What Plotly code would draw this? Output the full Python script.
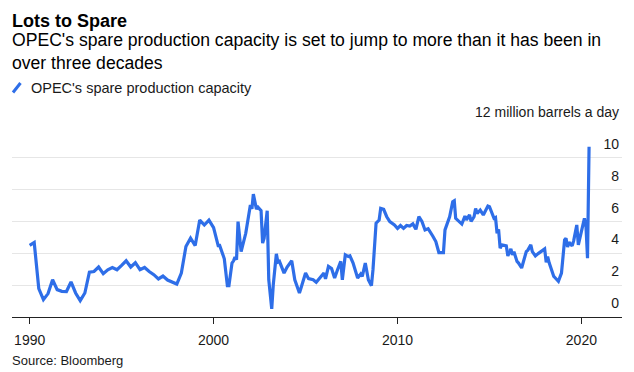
import plotly.graph_objects as go

# ---- data ----
dates = [
    "1990-01", "1990-04", "1990-07", "1990-10", "1991-01", "1991-04", "1991-07", "1991-10",
    "1992-01", "1992-04", "1992-07", "1992-10", "1993-01", "1993-04", "1993-07", "1993-10",
    "1994-01", "1994-04", "1994-07", "1994-10", "1995-01", "1995-04", "1995-07", "1995-10",
    "1996-01", "1996-04", "1996-07", "1996-10", "1997-01", "1997-04", "1997-07", "1997-10",
    "1998-01", "1998-04", "1998-07", "1998-10", "1999-01", "1999-04", "1999-07", "1999-10",
    "2000-01", "2000-04", "2000-05", "2000-08", "2000-10", "2000-11", "2001-01", "2001-02",
    "2001-03", "2001-04", "2001-05", "2001-07", "2001-10", "2002-01", "2002-02", "2002-03",
    "2002-05", "2002-06", "2002-08", "2002-09", "2002-10", "2002-12", "2003-01", "2003-03",
    "2003-04", "2003-06", "2003-07", "2003-08", "2003-11", "2004-01", "2004-04", "2004-06",
    "2004-09", "2004-10", "2005-01", "2005-03", "2005-06", "2005-08", "2005-11", "2006-01",
    "2006-02", "2006-04", "2006-06", "2006-08", "2006-10", "2006-12", "2007-01", "2007-03",
    "2007-05", "2007-06", "2007-08", "2007-10", "2007-11", "2008-01", "2008-02", "2008-04",
    "2008-06", "2008-08", "2008-09", "2008-11", "2009-01", "2009-02", "2009-04", "2009-06",
    "2009-08", "2009-11", "2010-01", "2010-03", "2010-05", "2010-07", "2010-09", "2010-11",
    "2011-01", "2011-03", "2011-05", "2011-07", "2011-09", "2011-12", "2012-02", "2012-04",
    "2012-07", "2012-08", "2012-11", "2013-01", "2013-02", "2013-03", "2013-05", "2013-07",
    "2013-09", "2013-10", "2013-12", "2014-01", "2014-03", "2014-04", "2014-05", "2014-07",
    "2014-09", "2014-12", "2015-01", "2015-03", "2015-04", "2015-05", "2015-06", "2015-07",
    "2015-08", "2015-09", "2015-12", "2016-01", "2016-03", "2016-04", "2016-05", "2016-07",
    "2016-08", "2016-10", "2017-01", "2017-02", "2017-04", "2017-05", "2017-07", "2017-09",
    "2018-01", "2018-02", "2018-03", "2018-04", "2018-06", "2018-07", "2018-08", "2018-10",
    "2018-12", "2019-02", "2019-03", "2019-04", "2019-05", "2019-07", "2019-08", "2019-10",
    "2019-11", "2019-12", "2020-01", "2020-02", "2020-03", "2020-04", "2020-05", "2020-06",
]
spare_capacity = [
    4.50, 4.68, 1.78, 1.09, 1.47, 2.34, 1.72, 1.61,
    1.60, 2.20, 1.51, 1.03, 1.51, 2.82, 2.86, 3.14,
    2.72, 2.97, 3.11, 2.97, 3.24, 3.53, 3.14, 3.41,
    2.97, 3.11, 2.86, 2.66, 2.39, 2.57, 2.32, 2.20,
    2.07, 2.76, 4.43, 4.95, 4.49, 6.09, 5.78, 6.09,
    5.61, 4.49, 4.50, 3.66, 1.97, 1.97, 3.39, 3.53,
    3.76, 3.60, 5.99, 4.11, 5.26, 7.03, 6.80, 7.72,
    6.78, 6.90, 6.68, 4.64, 4.95, 6.68, 2.34, 0.51,
    2.03, 3.97, 3.45, 3.50, 2.76, 3.14, 3.53, 2.34,
    1.51, 1.80, 2.76, 2.41, 2.34, 2.18, 2.55, 2.76,
    2.39, 3.18, 3.05, 2.45, 3.00, 3.49, 2.34, 3.91,
    3.80, 3.84, 3.40, 2.86, 2.45, 2.70, 2.55, 3.39,
    2.34, 1.97, 2.97, 5.89, 6.09, 6.82, 6.76, 6.30,
    5.99, 5.78, 5.57, 5.75, 5.57, 5.75, 5.72, 5.85,
    5.51, 6.30, 6.00, 5.47, 5.55, 5.09, 4.74, 4.05,
    4.05, 5.47, 6.30, 7.24, 7.30, 6.20, 5.99, 5.84,
    6.34, 6.10, 6.41, 6.00, 6.30, 6.82, 6.50, 6.72,
    6.41, 6.97, 6.93, 6.51, 6.20, 6.25, 5.26, 5.50,
    4.32, 4.53, 4.47, 3.84, 4.28, 3.90, 4.10, 3.49,
    3.39, 3.08, 4.11, 4.20, 4.53, 4.11, 3.84, 4.00,
    4.28, 3.43, 3.80, 3.40, 2.80, 2.55, 2.45, 2.24,
    2.76, 4.84, 4.95, 4.40, 4.70, 4.47, 4.80, 5.78,
    4.53, 4.89, 5.40, 5.80, 6.20, 5.68, 3.70, 10.70,
]
y_tickvals = [0, 2, 4, 6, 8, 10, 12]
y_ticktext = ["0", "2", "4", "6", "8", "10", "12 million barrels a day"]
x_tickvals = ["1990-01-01", "2000-01-01", "2010-01-01", "2020-01-01"]
x_ticktext = ["1990", "2000", "2010", "2020"]

title = "Lots to Spare"
subtitle = "OPEC's spare production capacity is set to jump to more than it has been in<br>over three decades"
series_name = "OPEC's spare production capacity"
source = "Source: Bloomberg"

# ---- layout constants ----
W, H = 634, 372
ML, MR, MT, MB = 12, 12, 126, 55
PW, PH = W - ML - MR, H - MT - MB
BLUE = "#2e6ee8"
FONT = "Liberation Sans, Arial, Helvetica, sans-serif"


def px_x(px):
    return (px - ML) / PW


def px_y(py):
    return (H - MB - py) / PH


fig = go.Figure()
fig.add_trace(go.Scatter(
    x=dates, y=spare_capacity, mode="lines", name=series_name,
    line=dict(color=BLUE, width=3.2), showlegend=False,
))

fig.update_layout(
    width=W, height=H,
    margin=dict(l=ML, r=MR, t=MT, b=MB, pad=0),
    paper_bgcolor="white", plot_bgcolor="white",
    font=dict(family=FONT, color="#1a1a1a", size=14),
    xaxis=dict(
        type="date",
        range=["1989-01-15", "2022-03-17"],
        tickvals=x_tickvals, ticktext=x_ticktext,
        showgrid=False, zeroline=False,
        showline=True, linecolor="#222", linewidth=1,
        ticks="outside", ticklen=6, tickcolor="#222", tickwidth=1,
        ticklabelstandoff=4,
        tickfont=dict(size=14, color="#1a1a1a"),
    ),
    yaxis=dict(
        range=[0, 12], side="right",
        tickvals=y_tickvals, ticktext=y_ticktext,
        ticklabelposition="inside top", ticklabeloverflow="allow",
        ticklabelshift=-4,
        showgrid=True, gridcolor="#e6e6e6", gridwidth=1,
        zeroline=False, showline=False, ticks="",
        tickfont=dict(size=14, color="#1a1a1a"),
    ),
)

anns = [
    dict(text="<b>" + title + "</b>", x=px_x(10), y=px_y(20.5), font=dict(size=18, color="#000")),
    dict(text=subtitle, x=px_x(10), y=px_y(51), font=dict(size=17.6, color="#000")),
    dict(text=series_name, x=px_x(29), y=px_y(87.5), font=dict(size=14.5, color="#1a1a1a")),
    dict(text=source, x=px_x(10), y=px_y(360), font=dict(size=13, color="#1a1a1a")),
]
for a in anns:
    fig.add_annotation(xref="paper", yref="paper", xanchor="left", yanchor="middle",
                       showarrow=False, align="left", **a)

# slanted legend swatch
fig.add_shape(type="line", xref="paper", yref="paper",
              x0=px_x(13), y0=px_y(92.5), x1=px_x(20.5), y1=px_y(83),
              line=dict(color=BLUE, width=3))

fig.write_html("out.html", config={"displayModeBar": False},
               post_script="document.body.style.margin='0';document.body.style.padding='0';")
